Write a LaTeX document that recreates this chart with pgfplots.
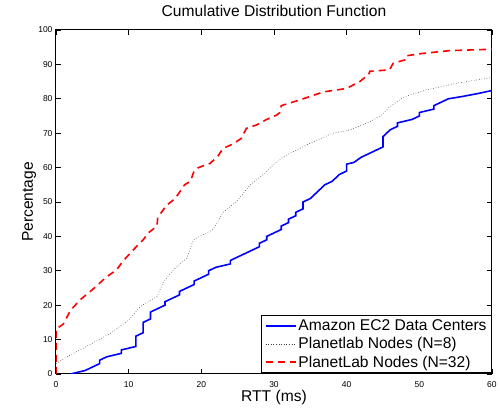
\documentclass[border=0pt]{standalone}
\usepackage{fontspec}
\setmainfont{Liberation Sans}
\usepackage{pgfplots}
\pgfplotsset{compat=1.18}
\usetikzlibrary{calc}

\begin{document}
\begin{tikzpicture}
\begin{axis}[
  scale only axis, width=436bp, height=344bp,
  xmin=0, xmax=60, ymin=0, ymax=100,
  xtick={0,10,...,60}, ytick={0,10,...,100},
  tick align=inside, tick pos=both,
  major tick length=5bp,
  axis line style={line width=1bp},
  every tick/.style={black, line width=0.6bp},
  /pgf/number format/assume math mode=true,
  tick label style={font=\fontsize{8.5bp}{10bp}\selectfont},
  xticklabel style={yshift=-4bp},
  title={Cumulative Distribution Function},
  title style={font=\fontsize{15.6bp}{18bp}\selectfont, at={(0.5,1)}, anchor=base, yshift=8bp},
  xlabel={RTT (ms)},
  xlabel style={font=\fontsize{15.6bp}{18bp}\selectfont, at={(0.5,0)}, anchor=base, yshift=-28bp},
  legend cell align=left,
  legend style={font=\fontsize{15.6bp}{18bp}\selectfont, at={(1,0)}, anchor=south east,
    yshift=1bp, draw=black, line width=0.8bp, inner xsep=3bp, inner ysep=2bp, row sep=1.5bp},
  legend image code/.code={\draw[#1] plot coordinates {(0bp,0bp) (30bp,0bp)};},
]
% Amazon EC2 data centers
\addplot[blue, line width=1.6bp] coordinates {
(2,0)(3,0.5)(4,1)(5,2)(6,3)(6,4)(7,5)(8,5.5)(9,6)(9,7)(10,7.5)(11,8)(11,11)(12,12)(12,15)
(13,16)(13,18)(14,19)(15,20)(15,21)(16,22)(17,23)(17,24)(18,25)(19,26)(19,27)(20,28)(21,29)
(21,30)(22,31)(23,31.5)(24,32)(24,33)(25,34)(26,35)(27,36)(28,37)(28,38)(29,39)(29,40)(30,41)
(31,42)(31,43)(32,44)(32,45)(33,46)(33,47)(34,48)(34,50)(35,51)(36,53)(37,55)(38,56)(39,58)
(40,59)(40,61)(41,61.5)(42,63)(43,64)(44,65)(45,66)(45,69)(46,71)(47,72)(47,73)(48,73.5)
(49,74)(50,75)(50,76)(51,76.5)(52,77)(52,78)(53,79)(54,80)(56,80.7)(58,81.5)(60,82.4)
};
\addlegendentry{Amazon EC2 Data Centers}
% Planetlab N=8
\addplot[black!75, line width=0.6bp, dotted] coordinates {
(0,3)(1.5,5)(4,7.8)(7.5,11.8)(10,15.7)(11.6,19.6)(13.9,22.5)(14.8,26.8)(16.1,30.2)(18,33.6)
(18.9,39)(21.6,42)(22.6,45.5)(23,47)(25,50.5)(26.7,54.9)(29,58.8)(29.9,60.8)(31.3,63.2)
(33.3,65.3)(34.9,67)(38.1,70)(40.4,70.9)(43.2,73.3)(44.8,75.3)(45.9,77.6)(47.3,79.7)(48,80.6)
(51,82.6)(55.1,84.5)(60,86.2)
};
\addlegendentry{Planetlab Nodes (N=8)}
% PlanetLab N=32
\addplot[red, line width=1.6bp, dash pattern=on 7bp off 5bp] coordinates {
(0,0)(0,13)(1,14.5)(2,18.5)(3.3,21.5)(5,24.5)(7,28.3)(8.3,30.2)(9.3,33)(10.6,36)(12,39)
(12.7,41)(13.9,43)(14,45.5)(15.2,49)(16.4,51)(17.7,55)(18.5,56)(19,59)(19.6,60)(21.2,61.2)
(22.3,63.4)(23,65.6)(24.4,66.9)(25.5,68.5)(26.2,71.4)(27.6,72.4)(29,74)(30.4,75.3)(30.8,76)
(31,78)(33.6,79.7)(36.8,82)(40,83)(41.8,85)(43,87)(43.2,88)(45.9,88.4)(46.4,90.3)(48,91.3)
(48.2,92.5)(50.5,93.2)(54.2,94)(60,94.4)
};
\addlegendentry{PlanetLab Nodes (N=32)}
\end{axis}
% y axis label
\node[rotate=90, anchor=base, font=\fontsize{15.6bp}{18bp}\selectfont]
  at ($(current axis.west)+(-23bp,0)$) {Percentage};
\path ($(current axis.south west)+(-56bp,-33bp)$) rectangle ($(current axis.north east)+(8bp,30bp)$);
\end{tikzpicture}
\end{document}
